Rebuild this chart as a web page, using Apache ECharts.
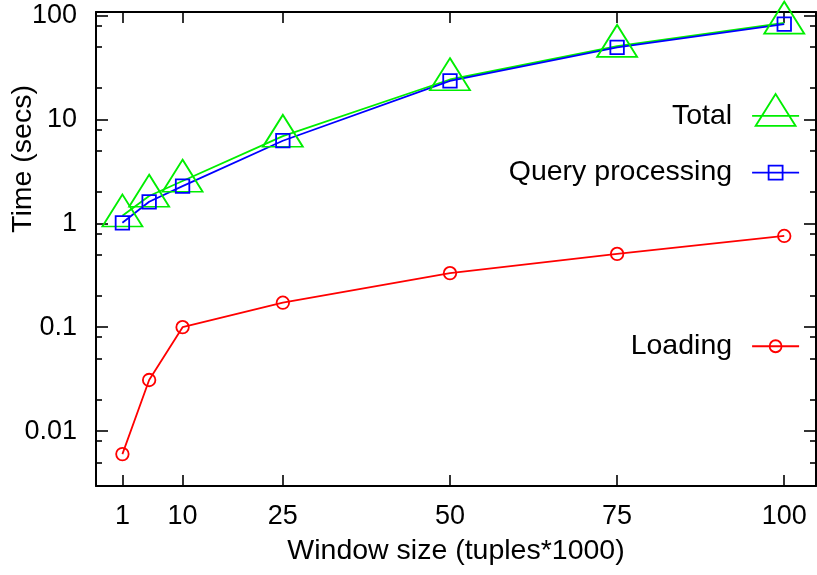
<!DOCTYPE html>
<html><head><meta charset="utf-8">
<script src="https://cdn.jsdelivr.net/npm/echarts@6/dist/echarts.min.js"></script>
<style>html,body{margin:0;padding:0;background:#fff}#c{width:817px;height:575px}</style>
</head><body><div id="c"></div>
<script>
const windowSizes = [1, 5, 10, 25, 50, 75, 100];
const totalTime = [1.18, 1.83, 2.55, 6.9, 24.2, 50.6, 84.7];
const queryTime = [1.01, 1.61, 2.28, 6.23, 23.5, 49.3, 82.5];
const loadingTime = [0.006, 0.031, 0.1, 0.172, 0.331, 0.507, 0.755];
const xTickValues = [1, 10, 25, 50, 75, 100];
const yMajorTicks = [0.01, 0.1, 1, 10, 100];
const yTickLabels = ['0.01', '0.1', '1', '10', '100'];
const yMinorTicks = [0.005, 0.008, 0.02, 0.05, 0.08, 0.2, 0.5, 0.8, 2, 5, 8, 20, 50, 80];
const seriesNames = ['Total', 'Query processing', 'Loading'];
const colors = ['#00ee00', '#0000ff', '#ff0000'];

const FONT = 'Liberation Sans, Arial, Helvetica, sans-serif';
const FS = 27;      // tick labels
const FT = 28.5;    // titles and legend
const LW = 1.8;
const X_MIN = -2.95, X_MAX = 104.75;
const Y_MIN = 0.00296, Y_MAX = 108;

function pairs(ys) { return windowSizes.map((x, i) => [x, ys[i]]); }

function yAx(position, ticks, len, withLabels, withLine) {
  return {
    type: 'log', logBase: 10, min: Y_MIN, max: Y_MAX, position: position,
    axisLine: { show: withLine, onZero: false, lineStyle: { color: '#000', width: 2 } },
    axisTick: { show: true, inside: true, length: len, customValues: ticks, lineStyle: { color: '#000', width: 1.6 } },
    axisLabel: withLabels ? {
      show: true, customValues: ticks, margin: 19, color: '#000', fontFamily: FONT, fontSize: FS,
      formatter: function (v) { const i = yMajorTicks.findIndex(t => Math.abs(t - v) / t < 1e-6); return i >= 0 ? yTickLabels[i] : ''; }
    } : { show: false },
    splitLine: { show: false }, minorTick: { show: false }
  };
}
function xAx(position, withLabels) {
  return {
    type: 'value', min: X_MIN, max: X_MAX, position: position,
    axisLine: { show: true, onZero: false, lineStyle: { color: '#000', width: 2 } },
    axisTick: { show: true, inside: true, length: 11, customValues: xTickValues, lineStyle: { color: '#000', width: 1.6 } },
    axisLabel: withLabels ? { show: true, customValues: xTickValues, margin: 17, color: '#000', fontFamily: FONT, fontSize: FS } : { show: false },
    splitLine: { show: false },
    name: withLabels ? 'Window size (tuples*1000)' : '',
    nameLocation: 'middle', nameGap: 51,
    nameTextStyle: { color: '#000', fontFamily: FONT, fontSize: FT }
  };
}

const legendIcons = [
  'path://M0,22L47,22M23.5,0L43.5,32L3.5,32ZM23.5,44',
  'path://M0,7L47,7M16.5,0L30.5,0L30.5,14L16.5,14Z',
  'path://M0,6L47,6M17.5,6A6,6,0,1,1,29.5,6A6,6,0,1,1,17.5,6Z'
];
const legendIconH = [44, 14, 12];
const legendLineY = [115, 172.3, 346];

const legends = seriesNames.map((n, i) => ({
  show: true, orient: 'vertical', align: 'right', right: 17,
  top: legendLineY[i] - Math.max(legendIconH[i], FT) / 2,
  padding: 0, itemWidth: 47, itemHeight: legendIconH[i], selectedMode: false,
  textStyle: { color: '#000', fontFamily: FONT, fontSize: FT, padding: [0, 15, 0, 0] },
  data: [{ name: n, icon: legendIcons[i], itemStyle: { color: 'transparent', borderColor: colors[i], borderWidth: LW } }]
}));

const symbolDefs = [
  { symbol: 'triangle', symbolSize: [40, 32], symbolOffset: [0, -5.3] },
  { symbol: 'rect', symbolSize: 13.5, symbolOffset: [0, 0] },
  { symbol: 'circle', symbolSize: 12.5, symbolOffset: [0, 0] }
];
const seriesData = [totalTime, queryTime, loadingTime];

const option = {
  backgroundColor: '#fff',
  animation: false,
  grid: { left: 96, right: 1, top: 12, bottom: 89, containLabel: false },
  xAxis: [xAx('bottom', true), xAx('top', false)],
  yAxis: [
    yAx('left', yMajorTicks, 12, true, true),
    yAx('right', yMajorTicks, 12, false, true),
    yAx('left', yMinorTicks, 6, false, false),
    yAx('right', yMinorTicks, 6, false, false)
  ],
  legend: legends,
  graphic: [{
    type: 'text', x: 23, y: 159, rotation: Math.PI / 2,
    style: { text: 'Time (secs)', fill: '#000', font: FT + 'px ' + FONT, align: 'center', verticalAlign: 'middle' }
  }],
  series: seriesNames.map((n, i) => ({
    name: n, type: 'line', xAxisIndex: 0, yAxisIndex: 0, clip: false,
    data: pairs(seriesData[i]),
    symbol: symbolDefs[i].symbol, symbolSize: symbolDefs[i].symbolSize, symbolOffset: symbolDefs[i].symbolOffset,
    showAllSymbol: true,
    lineStyle: { color: colors[i], width: LW },
    itemStyle: { color: 'transparent', borderColor: colors[i], borderWidth: LW },
    emphasis: { disabled: true }
  }))
};
const chart = echarts.init(document.getElementById('c'), null, { renderer: 'canvas' });
chart.setOption(option);
</script></body></html>
